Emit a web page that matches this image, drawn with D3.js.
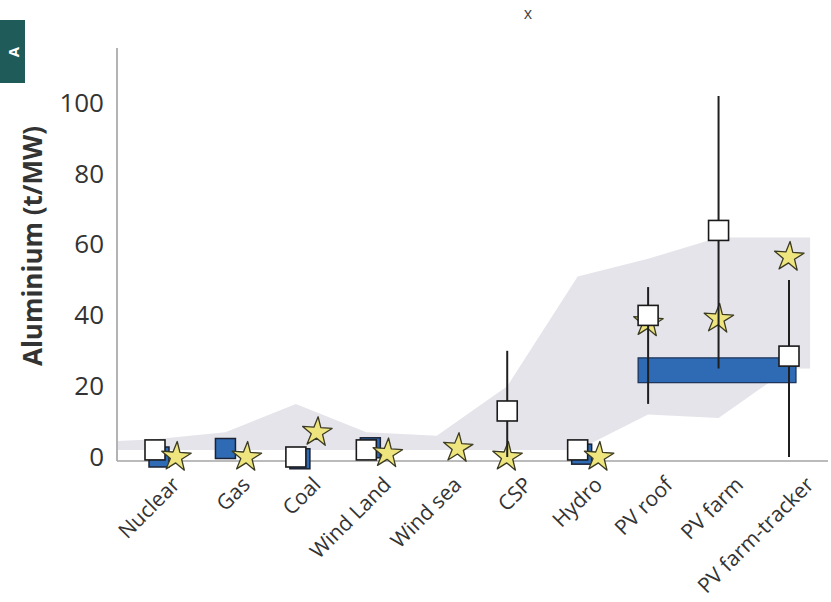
<!DOCTYPE html>
<html>
<head>
<meta charset="utf-8">
<script src="https://cdn.jsdelivr.net/npm/d3@7"></script>
<style>
  html, body { margin: 0; padding: 0; background: #fff; }
  svg { display: block; }
  text { font-family: "Open Sans", "Noto Sans", sans-serif; }
</style>
</head>
<body>
<svg id="chart" width="831" height="602"></svg>
<script>
// Technologies on the x axis
const categories = ["Nuclear", "Gas", "Coal", "Wind Land", "Wind sea", "CSP", "Hydro", "PV roof", "PV farm", "PV farm-tracker"];

// Grey envelope (range of literature values), t/MW
const bandUpper = [5, 7, 15, 7, 6, 20, 51, 56, 62, 62];
const bandLower = [2, 2, 2, 2, 2, 2, 2, 12, 11, 25];

// White squares (central estimate) with min/max whiskers
const whiteSquare = [2, null, 0, 2, null, 13, 2, 40, 64, 28.5];
const whiskerLow  = [null, null, null, null, null, 0, null, 15, 25, 0];
const whiskerHigh = [null, null, null, null, null, 30, null, 48, 102, 50];

// Blue squares (second source)
const blueSquare = [0, 2.4, -0.5, 2.6, null, null, 0.8, null, null, null];

// Yellow stars (model values)
const starValue = [0, 0, 7, 1, 2.5, 0, 0, 38, 39, 56.5];

// Blue range bar shared by the PV technologies
const barCategories = ["PV roof", "PV farm-tracker"];
const barRange = [21, 28];

// Axis ticks
const yTicks = [0, 20, 40, 60, 80, 100];
const yTitle = "Aluminium (t/MW)";

const svg = d3.select("#chart");

const x = d3.scalePoint().domain(categories).range([155, 789]);
const step = x.step();
const y = d3.scaleLinear().domain([0, 100]).range([457, 103]);

const axisLeft = 117, axisBottom = 461, axisTop = 48, axisRight = 828;

// ---- envelope area ----
const bandPts = categories.map((c, i) => ({ x: x(c), lo: bandLower[i], hi: bandUpper[i] }));
bandPts.unshift({ x: axisLeft + 1, lo: bandLower[0], hi: bandUpper[0] - 0.5 });
bandPts.push({ x: x(categories[categories.length - 1]) + 0.3 * step, lo: bandLower[bandLower.length - 1], hi: bandUpper[bandUpper.length - 1] });

svg.append("path")
  .datum(bandPts)
  .attr("fill", "#e4e4ea")
  .attr("d", d3.area().x(d => d.x).y0(d => y(d.lo)).y1(d => y(d.hi)));

// ---- axes ----
svg.append("line")
  .attr("x1", axisLeft).attr("x2", axisLeft)
  .attr("y1", axisTop).attr("y2", axisBottom)
  .attr("stroke", "#9a9a9a").attr("stroke-width", 1.5);
svg.append("line")
  .attr("x1", axisLeft).attr("x2", axisRight)
  .attr("y1", axisBottom).attr("y2", axisBottom)
  .attr("stroke", "#a4a4a4").attr("stroke-width", 1.5);

const yAxis = d3.axisLeft(y).tickValues(yTicks).tickSize(0).tickPadding(0);
const yg = svg.append("g").attr("transform", `translate(${axisLeft - 13},0)`).call(yAxis);
yg.select(".domain").remove();
yg.selectAll("text")
  .attr("font-size", 26)
  .attr("fill", "#333")
  .attr("font-family", "'Open Sans', sans-serif");

svg.append("text")
  .attr("transform", `translate(42,246) rotate(-90)`)
  .attr("text-anchor", "middle")
  .attr("font-size", 26)
  .attr("font-weight", "bold")
  .attr("fill", "#333")
  .text(yTitle);

// x tick labels, rotated
svg.append("g").selectAll("text")
  .data(categories)
  .join("text")
  .attr("transform", d => `translate(${x(d) + 26},${axisBottom + 25}) rotate(-45)`)
  .attr("text-anchor", "end")
  .attr("font-size", 21)
  .attr("fill", "#333")
  .text(d => d);

// ---- blue PV range bar ----
svg.append("rect")
  .attr("x", x(barCategories[0]) - 10)
  .attr("width", x(barCategories[1]) - x(barCategories[0]) + 17)
  .attr("y", y(barRange[1]))
  .attr("height", y(barRange[0]) - y(barRange[1]))
  .attr("fill", "#2e6bb4")
  .attr("stroke", "#1b2f55")
  .attr("stroke-width", 1.2);

const sq = 20;

// ---- blue squares (behind) ----
svg.append("g").selectAll("rect")
  .data(categories.map((c, i) => ({ c, v: blueSquare[i], hasWhite: whiteSquare[i] !== null })).filter(d => d.v !== null))
  .join("rect")
  .attr("x", d => x(d.c) + (d.hasWhite ? 4 : 0) - sq / 2)
  .attr("y", d => y(d.v) - sq / 2)
  .attr("width", sq).attr("height", sq)
  .attr("fill", "#2e6bb4")
  .attr("stroke", "#1b2233")
  .attr("stroke-width", 1.5);

// white squares without whiskers
const whiteData = categories.map((c, i) => ({
  c, v: whiteSquare[i], lo: whiskerLow[i], hi: whiskerHigh[i]
})).filter(d => d.v !== null);

svg.append("g").selectAll("rect")
  .data(whiteData.filter(d => d.lo === null))
  .join("rect")
  .attr("x", d => x(d.c) - sq / 2)
  .attr("y", d => y(d.v) - sq / 2)
  .attr("width", sq).attr("height", sq)
  .attr("fill", "#fff")
  .attr("stroke", "#1a1a1a")
  .attr("stroke-width", 1.6);

// ---- stars: dodged right of the square unless the category carries a whisker ----
const star = d3.symbol().type(d3.symbolStar).size(270);
svg.append("g").selectAll("path")
  .data(categories.map((c, i) => ({ c, v: starValue[i], onWhisker: whiskerLow[i] !== null })))
  .join("path")
  .attr("d", star)
  .attr("transform", d => `translate(${x(d.c) + (d.onWhisker ? 0 : 0.3 * step)},${y(d.v)}) rotate(4)`)
  .attr("fill", "#eee57f")
  .attr("stroke", "#3b3a22")
  .attr("stroke-width", 1.3)
  .attr("stroke-linejoin", "round");

// ---- whiskers and their squares on top ----
const wg = svg.append("g");
wg.selectAll("line")
  .data(whiteData.filter(d => d.lo !== null))
  .join("line")
  .attr("x1", d => x(d.c)).attr("x2", d => x(d.c))
  .attr("y1", d => y(d.lo)).attr("y2", d => y(d.hi))
  .attr("stroke", "#1f1f1f")
  .attr("stroke-width", 2);
wg.selectAll("rect")
  .data(whiteData.filter(d => d.lo !== null))
  .join("rect")
  .attr("x", d => x(d.c) - sq / 2)
  .attr("y", d => y(d.v) - sq / 2)
  .attr("width", sq).attr("height", sq)
  .attr("fill", "#fff")
  .attr("stroke", "#1a1a1a")
  .attr("stroke-width", 1.6);

// ---- panel tag and small heading glyph at the top ----
svg.append("rect")
  .attr("x", 0).attr("y", 20).attr("width", 25).attr("height", 63)
  .attr("fill", "#1f5b59");
svg.append("text")
  .attr("transform", "translate(19,52) rotate(-90)")
  .attr("text-anchor", "middle")
  .attr("font-size", 15).attr("font-weight", "bold")
  .attr("fill", "#fff")
  .text("A");
svg.append("text")
  .attr("x", 528).attr("y", 19)
  .attr("text-anchor", "middle")
  .attr("font-size", 16)
  .attr("fill", "#444")
  .text("x");
</script>
</body>
</html>
